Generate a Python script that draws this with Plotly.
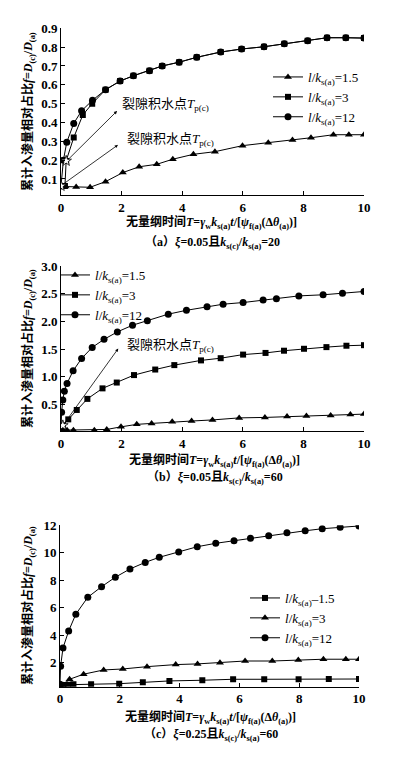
import plotly.graph_objects as go

# ---------------- data ----------------
# panel (a)
a_x15 = [0.0, 0.15, 0.50, 0.96, 1.47, 2.04, 2.58, 3.16, 3.69, 4.37, 5.08, 5.99, 6.84, 7.64, 8.25, 8.99, 9.50, 10.0]
a_y15 = [0.063, 0.060, 0.058, 0.056, 0.086, 0.134, 0.165, 0.178, 0.205, 0.231, 0.245, 0.277, 0.293, 0.307, 0.319, 0.335, 0.335, 0.335]
a_x3 = [0.0, 0.13, 0.17, 0.42, 0.72, 1.03, 1.47, 1.95, 2.39, 2.92, 3.34, 3.90, 4.48, 5.27, 5.96, 6.70, 7.37, 8.14, 8.78, 9.40, 10.0]
a_y3 = [0.063, 0.063, 0.196, 0.32, 0.44, 0.50, 0.574, 0.62, 0.648, 0.675, 0.70, 0.72, 0.746, 0.774, 0.79, 0.802, 0.818, 0.834, 0.85, 0.85, 0.848]
a_x12 = [0.0, 0.08, 0.19, 0.42, 0.68, 1.04, 1.47, 1.95, 2.39, 2.92, 3.34, 3.90, 4.48, 5.27, 5.96, 6.70, 7.37, 8.14, 8.78, 9.40, 10.0]
a_y12 = [0.063, 0.20, 0.295, 0.395, 0.462, 0.518, 0.574, 0.62, 0.648, 0.675, 0.70, 0.72, 0.746, 0.774, 0.79, 0.802, 0.818, 0.834, 0.85, 0.85, 0.848]
a_pond_x = [0.0, 0.17]
a_pond_y = [0.063, 0.196]

# panel (b)
b_x15 = [0.0, 0.1, 0.2, 0.41, 1.10, 1.51, 1.98, 2.50, 2.99, 3.67, 4.31, 5.0, 5.88, 6.73, 7.46, 8.10, 8.90, 9.55, 10.0]
b_y15 = [0.035, 0.035, 0.035, 0.035, 0.035, 0.048, 0.095, 0.14, 0.157, 0.186, 0.20, 0.22, 0.257, 0.265, 0.28, 0.29, 0.30, 0.32, 0.325]
b_x3 = [0.0, 0.06, 0.24, 0.52, 0.87, 1.37, 1.84, 2.41, 3.11, 3.74, 4.62, 5.27, 6.01, 6.75, 7.36, 8.02, 8.76, 9.42, 10.0]
b_y3 = [0.05, 0.12, 0.23, 0.40, 0.60, 0.79, 0.895, 1.03, 1.13, 1.21, 1.295, 1.335, 1.40, 1.43, 1.47, 1.505, 1.535, 1.56, 1.57]
b_x12 = [0.0, 0.02, 0.06, 0.11, 0.2, 0.40, 0.68, 1.03, 1.42, 1.86, 2.36, 2.85, 3.54, 4.14, 4.82, 5.35, 6.01, 6.67, 7.11, 7.85, 8.65, 9.29, 10.0]
b_y12 = [0.05, 0.36, 0.58, 0.74, 0.88, 1.107, 1.33, 1.53, 1.675, 1.81, 1.93, 2.01, 2.13, 2.20, 2.265, 2.31, 2.34, 2.385, 2.41, 2.46, 2.48, 2.51, 2.54]
b_pond_x = [0.06]
b_pond_y = [0.12]

# panel (c)
c_x15 = [0.0, 0.1, 0.27, 0.45, 1.04, 1.98, 2.77, 3.66, 4.76, 5.79, 6.83, 7.98, 8.99, 10.0]
c_y15 = [0.38, 0.38, 0.40, 0.43, 0.43, 0.47, 0.57, 0.67, 0.72, 0.79, 0.79, 0.79, 0.81, 0.81]
c_x3 = [0.0, 0.1, 0.32, 0.79, 1.46, 2.10, 2.91, 3.87, 4.6, 5.35, 6.19, 7.10, 7.97, 8.81, 9.56, 10.0]
c_y3 = [0.38, 0.38, 0.79, 1.16, 1.47, 1.54, 1.71, 1.86, 1.91, 2.0, 2.12, 2.12, 2.2, 2.25, 2.25, 2.25]
c_x12 = [0.0, 0.02, 0.1, 0.29, 0.53, 0.93, 1.39, 1.85, 2.34, 2.85, 3.32, 3.97, 4.59, 5.21, 5.82, 6.37, 6.98, 7.59, 8.2, 8.77, 9.37, 10.0]
c_y12 = [0.43, 1.74, 3.07, 4.31, 5.53, 6.76, 7.53, 8.22, 8.82, 9.30, 9.67, 10.05, 10.44, 10.69, 10.88, 11.05, 11.24, 11.46, 11.6, 11.75, 11.85, 11.95]

x_ticks = [0, 2, 4, 6, 8, 10]
a_yticks = [0.1, 0.2, 0.3, 0.4, 0.5, 0.6, 0.7, 0.8, 0.9]
b_yticks = [0.5, 1.0, 1.5, 2.0, 2.5, 3.0]
c_yticks = [2, 4, 6, 8, 10, 12]

lbl15 = "<i>l</i>/<i>k</i><sub>s(a)</sub>=1.5"
lbl15c = "<i>l</i>/<i>k</i><sub>s(a)</sub>–1.5"
lbl3 = "<i>l</i>/<i>k</i><sub>s(a)</sub>=3"
lbl12 = "<i>l</i>/<i>k</i><sub>s(a)</sub>=12"

FONT = "Liberation Serif, Noto Sans CJK SC"
# page body has an 8px default margin, so the figure is 16px smaller than the window
OFF = 8
W, H = 396 - 2 * OFF, 757 - 2 * OFF

fig = go.Figure()

def series(x, y, name, symbol, xa, ya, legend, size=7):
    fig.add_trace(go.Scatter(
        x=x, y=y, name=name, mode="lines+markers",
        line=dict(color="black", width=1),
        marker=dict(symbol=symbol, size=size, color="black"),
        xaxis=xa, yaxis=ya, legend=legend))

def pond(x, y, xa, ya):
    fig.add_trace(go.Scatter(
        x=x, y=y, mode="markers", showlegend=False,
        marker=dict(symbol="star", size=8, color="white", line=dict(color="black", width=0.8)),
        xaxis=xa, yaxis=ya))

series(a_x15, a_y15, lbl15, "triangle-up", "x", "y", "legend")
series(a_x3, a_y3, lbl3, "square", "x", "y", "legend", 6)
series(a_x12, a_y12, lbl12, "circle", "x", "y", "legend")
pond(a_pond_x, a_pond_y, "x", "y")

series(b_x15, b_y15, lbl15, "triangle-up", "x2", "y2", "legend2")
series(b_x3, b_y3, lbl3, "square", "x2", "y2", "legend2", 6)
series(b_x12, b_y12, lbl12, "circle", "x2", "y2", "legend2")
pond(b_pond_x, b_pond_y, "x2", "y2")

series(c_x15, c_y15, lbl15c, "square", "x3", "y3", "legend3", 6)
series(c_x3, c_y3, lbl3, "triangle-up", "x3", "y3", "legend3")
series(c_x12, c_y12, lbl12, "circle", "x3", "y3", "legend3")

def px_x(p):
    return (p - OFF) / W

def px_y(p):
    return 1 - (p - OFF) / H

tickfont = dict(family="Liberation Serif", size=13, color="black", weight="bold")

def xaxis(dom, anchor):
    return dict(domain=dom, anchor=anchor, range=[0, 10], tickvals=x_ticks,
                showline=True, linecolor="black", linewidth=1, ticks="inside",
                ticklen=4, tickcolor="black", showgrid=False, zeroline=False,
                tickfont=tickfont, automargin=False)

def yaxis(dom, anchor, rng, tv, fmt=None):
    d = dict(domain=dom, anchor=anchor, range=rng, tickvals=tv,
             showline=True, linecolor="black", linewidth=1, ticks="inside",
             ticklen=4, tickcolor="black", showgrid=False, zeroline=False,
             tickfont=tickfont, automargin=False)
    if fmt:
        d["tickformat"] = fmt
    return d

leg_common = dict(bgcolor="rgba(0,0,0,0)", font=dict(family=FONT, size=13, color="black"),
                  xanchor="left", yanchor="top", itemwidth=30, tracegroupgap=0)

fig.update_layout(
    width=W, height=H, margin=dict(l=0, r=0, t=0, b=0, autoexpand=False),
    paper_bgcolor="white", plot_bgcolor="white",
    font=dict(family=FONT, size=13, color="black"),
    xaxis=xaxis([px_x(61), px_x(364)], "y"),
    yaxis=yaxis([px_y(195), px_y(28.3)], "x", [0.015, 0.9], a_yticks),
    xaxis2=xaxis([px_x(61), px_x(364)], "y2"),
    yaxis2=yaxis([px_y(431), px_y(266)], "x2", [0.02, 3.0], b_yticks, ".1f"),
    xaxis3=xaxis([px_x(60), px_x(359)], "y3"),
    yaxis3=yaxis([px_y(686.7), px_y(525.3)], "x3", [0.25, 12], c_yticks),
    legend=dict(x=px_x(268), y=px_y(62), **leg_common),
    legend2=dict(x=px_x(55), y=px_y(260), **leg_common),
    legend3=dict(x=px_x(245), y=px_y(583), **leg_common),
)

ytitle = "累计入渗量相对占比<i>f</i>=<i>D</i><sub>(c)</sub>/<i>D</i><sub>(a)</sub>"
xtitle = ("无量纲时间<i>T</i>=<i>γ</i><sub>w</sub><i>k</i><sub>s(a)</sub><i>t</i>/"
          "[<i>ψ</i><sub>f(a)</sub>(Δ<i>θ</i><sub>(a)</sub>)]")
caps = ["（a）<i>ξ</i>=0.05且<i>k</i><sub>s(c)</sub>/<i>k</i><sub>s(a)</sub>=20",
        "（b）<i>ξ</i>=0.05且<i>k</i><sub>s(c)</sub>/<i>k</i><sub>s(a)</sub>=60",
        "（c）<i>ξ</i>=0.25且<i>k</i><sub>s(c)</sub>/<i>k</i><sub>s(a)</sub>=60"]
label = "裂隙积水点<i>T</i><sub>p(c)</sub>"

title_font = dict(family=FONT, size=12, weight="bold")
anns = []
for cap_text, (yc, xt, cpy, xc) in zip(caps, [(112, 223, 243, 211), (349, 460, 478, 214), (606, 717, 735, 210)]):
    anns.append(dict(xref="paper", yref="paper", x=px_x(28), y=px_y(yc), text=ytitle,
                     xanchor="center", yanchor="middle",
                     textangle=-90, showarrow=False, font=title_font))
    anns.append(dict(xref="paper", yref="paper", x=px_x(xc), y=px_y(xt), text=xtitle,
                     xanchor="center", yanchor="middle", showarrow=False, font=title_font))
    anns.append(dict(xref="paper", yref="paper", x=px_x(xc + 1), y=px_y(cpy), text=cap_text,
                     xanchor="center", yanchor="middle", showarrow=False, font=title_font))

# ponding labels
lab_font = dict(family=FONT, size=13)
anns.append(dict(xref="x", yref="y", x=1.95, y=0.495, xanchor="left", yanchor="middle",
                 text=label, showarrow=False, font=lab_font))
anns.append(dict(xref="x", yref="y", x=2.1, y=0.31, xanchor="left", yanchor="middle",
                 text=label, showarrow=False, font=lab_font))
anns.append(dict(xref="x2", yref="y2", x=2.1, y=1.57, xanchor="left", yanchor="middle",
                 text=label, showarrow=False, font=lab_font))
# arrows
for xr, yr, hx, hy, tx, ty in [("x", "y", 1.85, 0.461, 0.19, 0.196),
                                ("x", "y", 1.88, 0.281, 0.03, 0.068),
                                ("x2", "y2", 1.89, 1.51, 0.07, 0.126)]:
    anns.append(dict(xref=xr, yref=yr, axref=xr, ayref=yr, x=hx, y=hy, ax=tx, ay=ty,
                     text="", showarrow=True, arrowhead=2, arrowsize=0.8, arrowwidth=0.8,
                     arrowcolor="black"))

fig.update_layout(annotations=anns)
fig.write_html("out.html")
